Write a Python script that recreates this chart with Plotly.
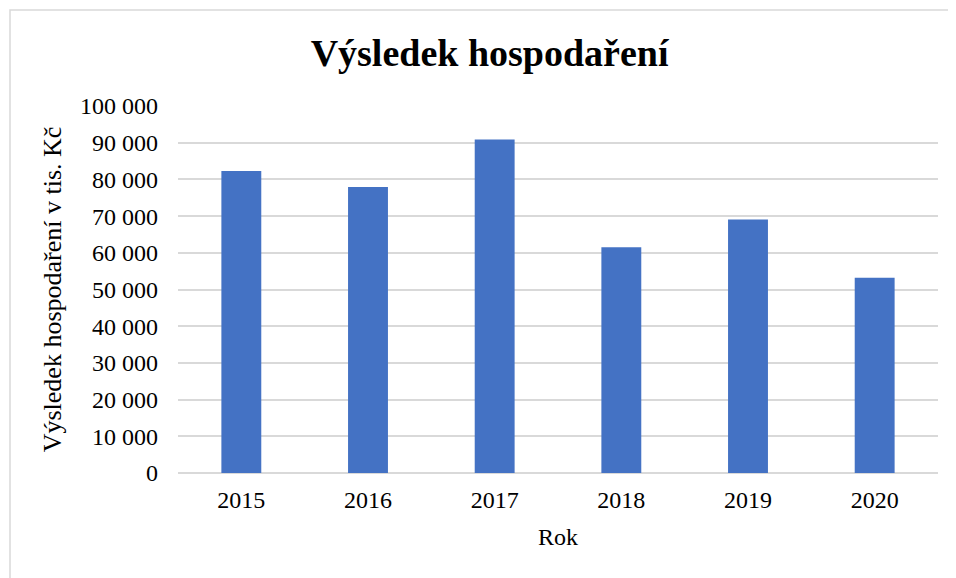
import plotly.graph_objects as go

# values (tis. Kč)
years = ["2015", "2016", "2017", "2018", "2019", "2020"]
result = [82300, 77900, 90900, 61500, 69100, 53200]

y_ticks = list(range(0, 100001, 10000))

FONT = "Liberation Serif, Times New Roman, serif"

fig = go.Figure()
fig.add_bar(
    x=years,
    y=result,
    marker_color="#4472C4",
    marker_line_width=0,
)

# page body adds an 8px margin, so the figure is 8px smaller each way
fig.update_layout(
    width=948,
    height=570,
    paper_bgcolor="white",
    plot_bgcolor="white",
    separators=", ",
    bargap=0.685,
    showlegend=False,
    font=dict(family=FONT, color="black", size=24),
    margin=dict(l=170, r=18, t=98, b=105),
    title=dict(
        text="<b>Výsledek hospodaření</b>",
        font=dict(family=FONT, size=38, color="black"),
        x=0.508,
        xanchor="center",
        y=0.922,
        yanchor="middle",
    ),
    xaxis=dict(
        title=dict(text="Rok", font=dict(size=24), standoff=16),
        showgrid=False,
        showline=False,
        ticks="",
        ticklabelstandoff=10,
    ),
    yaxis=dict(
        title=dict(text="Výsledek hospodaření v tis. Kč", font=dict(size=26), standoff=10),
        range=[0, 100000],
        tickvals=y_ticks,
        tickformat=",d",
        gridcolor="#d9d9d9",
        gridwidth=1.5,
        zeroline=True,
        zerolinecolor="#d9d9d9",
        zerolinewidth=1.5,
        ticks="",
        ticklabelstandoff=19,
    ),
)

# light frame of the chart area
fig.add_shape(
    type="rect", xref="paper", yref="paper",
    x0=-168 / 760, x1=1 + 40 / 760, y0=-200 / 367, y1=1 + 96 / 367,
    line=dict(color="#d9d9d9", width=1.5), fillcolor="rgba(0,0,0,0)", layer="below",
)

fig.write_html("out.html")
